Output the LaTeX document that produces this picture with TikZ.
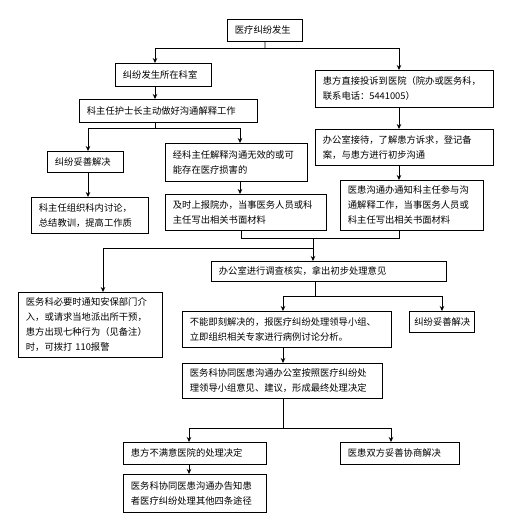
\documentclass[tikz,border=0pt]{standalone}
\usepackage{fontspec}
\newfontfamily\cjk{Noto Sans CJK SC}
\usetikzlibrary{arrows.meta}
\tikzset{
  box/.style={draw, line width=0.8pt, rectangle, anchor=north west, align=left,
    inner xsep=7.5pt, inner ysep=2pt, font=\cjk\fontsize{9.3}{15}\selectfont},
  conn/.style={line width=0.8pt},
  arr/.style={line width=0.8pt, -{Stealth[length=5pt,width=4.5pt]}}
}
\newcommand{\bx}[7]{\node[box, text width=#4pt-15pt, minimum height=#5pt, #7] (#1) at (#2,#3) {#6};}
\begin{document}
\begin{tikzpicture}[x=1pt,y=-1pt]
\useasboundingbox[fill=white] (0,0) rectangle (516,520);
\bx{n1}{227}{19}{75}{22}{医疗纠纷发生}{}
\bx{n2}{115}{63}{96}{23}{纠纷发生所在科室}{}
\bx{n3}{79}{99}{178}{23}{科主任护士长主动做好沟通解释工作}{}
\bx{r1}{315}{70}{178}{37}{患方直接投诉到医院（院办或医务科，\\联系电话：5441005）}{}
\bx{r2}{315}{129}{178}{36}{办公室接待，了解患方诉求，登记备\\案，与患方进行初步沟通}{}
\bx{r3}{340}{180}{143}{50}{医患沟通办通知科主任参与沟\\通解释工作，当事医务人员或\\科主任写出相关书面材料}{}
\bx{a1}{47}{151}{76}{21}{纠纷妥善解决}{}
\bx{a2}{31}{197}{117}{36}{科主任组织科内讨论，\\总结教训，提高工作质}{}
\bx{b1}{165}{143}{142}{38}{经科主任解释沟通无效的或可\\能存在医疗损害的}{}
\bx{b2}{165}{194}{161}{36}{及时上报院办，当事医务人员或科\\主任写出相关书面材料}{}
\bx{c1}{211}{261}{235}{20}{办公室进行调查核实，拿出初步处理意见}{}
\bx{L}{18}{292}{144}{65}{医务科必要时通知安保部门介\\入，或请求当地派出所干预，\\患方出现七种行为（见备注）\\时，可拨打 110报警}{}
\bx{d1}{182}{311}{209}{36}{不能即刻解决的，报医疗纠纷处理领导小组、\\立即组织相关专家进行病例讨论分析。}{}
\node[box, inner xsep=5pt, text width=55pt, minimum height=21pt] (d2) at (409,311) {纠纷妥善解决};
\bx{e1}{182}{363}{200}{35}{医务科协同医患沟通办公室按照医疗纠纷处\\理领导小组意见、建议，形成最终处理决定}{}
\bx{f1}{123}{442}{143}{22}{患方不满意医院的处理决定}{}
\bx{f2}{340}{442}{119}{22}{医患双方妥善协商解决}{}
\bx{g1}{123}{474}{143}{38}{医务科协同医患沟通办告知患\\者医疗纠纷处理其他四条途径}{}
% connectors
\coordinate (j1) at (265,48);
\draw[conn] (n1.south) -- (j1);
\draw[arr] (j1) -| (155,0 |- n2.north);
\draw[arr] (j1) -| (399,0 |- r1.north);
\draw[arr] (155,0 |- n2.south) -- (155,0 |- n3.north);
\coordinate (j2) at (155,128);
\draw[conn] (155,0 |- n3.south) -- (j2);
\draw[arr] (j2) -| (88,0 |- a1.north);
\draw[arr] (j2) -| (240,0 |- b1.north);
\draw[arr] (88,0 |- a1.south) -- (88,0 |- a2.north);
\draw[arr] (240,0 |- b1.south) -- (240,0 |- b2.north);
\draw[arr] (399,0 |- r1.south) -- (399,0 |- r2.north);
\draw[arr] (399,0 |- r2.south) -- (399,0 |- r3.north);
\coordinate (j3) at (313,238);
\coordinate (j4) at (313,248);
\draw[conn] (241,0 |- b2.south) |- (j3);
\draw[conn] (399,0 |- r3.south) |- (j3);
\draw[arr] (j3) -- (313,0 |- c1.north);
\draw[arr] (j4) -| (103,0 |- L.north);
\coordinate (j5) at (315,296);
\draw[conn] (315,0 |- c1.south) -- (j5);
\draw[arr] (j5) -| (283,0 |- d1.north);
\draw[arr] (j5) -| (442,0 |- d2.north);
\draw[arr] (283,0 |- d1.south) -- (283,0 |- e1.north);
\coordinate (j6) at (283,428);
\draw[conn] (283,0 |- e1.south) -- (j6);
\draw[arr] (j6) -| (189,0 |- f1.north);
\draw[arr] (j6) -| (391,0 |- f2.north);
\draw[arr] (189,0 |- f1.south) -- (189,0 |- g1.north);
\end{tikzpicture}
\end{document}
